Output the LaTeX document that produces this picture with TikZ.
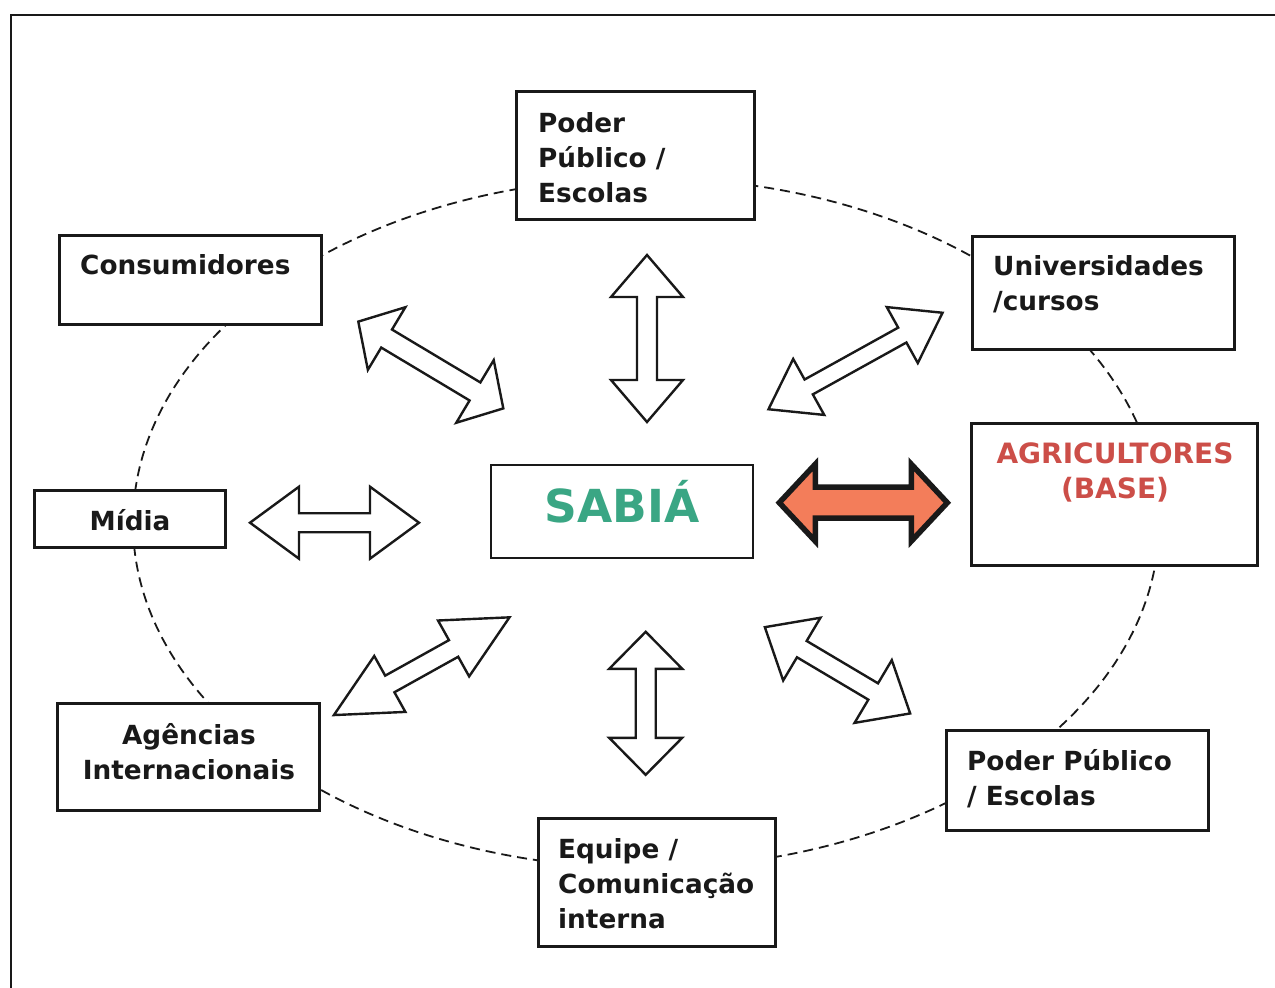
\documentclass[tikz,border=0pt]{standalone}
\usepackage{fontspec}
\setmainfont{DejaVu Sans}
\definecolor{sabiagreen}{RGB}{58,166,132}
\definecolor{agrired}{RGB}{204,78,72}
\definecolor{orangefill}{RGB}{243,125,90}
\definecolor{ink}{RGB}{25,25,25}
\newcommand{\FirstLineRule}{\rule{0pt}{24pt}}
% style, cx, cy, angle, length, head width, head length, shaft width
\newcommand{\DblArrow}[8]{%
  \begin{scope}[shift={(#2,#3)}, rotate=#4]
    \draw[#1] ({-#5/2},0) -- ({-#5/2+#7},{#6/2}) -- ({-#5/2+#7},{#8/2})
      -- ({#5/2-#7},{#8/2}) -- ({#5/2-#7},{#6/2}) -- ({#5/2},0)
      -- ({#5/2-#7},{-#6/2}) -- ({#5/2-#7},{-#8/2}) -- ({-#5/2+#7},{-#8/2})
      -- ({-#5/2+#7},{-#6/2}) -- cycle;
  \end{scope}}
\tikzset{
  box/.style={draw=ink, line width=2.8pt, fill=white, rectangle, inner sep=0pt},
  lbl/.style={inner sep=0pt, font=\fontsize{26.3}{35}\selectfont\bfseries, text=ink},
  hollow/.style={draw=ink, line width=2.4pt, fill=white, line join=miter},
  bold arrow/.style={draw=ink, line width=5.5pt, fill=orangefill, line join=miter},
  orbit/.style={draw=ink, line width=1.8pt, dash pattern=on 10pt off 6pt},
  frame/.style={draw=ink, line width=2.2pt}
}
\begin{document}
\begin{tikzpicture}[x=1pt, y=-1pt]
\useasboundingbox (0,0) rectangle (1275,988);
% frame
\draw[frame] (1275,15) -- (11,15) -- (11,988);
% dashed orbit
\draw[orbit] (646,523) ellipse [x radius=513, y radius=345];

% boxes
\node[box, minimum width=238pt, minimum height=128pt] (b1) at (635.5,155.5) {};
\node[box, minimum width=262pt, minimum height=89pt] (b2) at (190.5,280) {};
\node[box, minimum width=262pt, minimum height=113pt] (b3) at (1103.5,293) {};
\node[box, minimum width=191pt, minimum height=57pt] (b4) at (130,519) {};
\node[box, line width=2.2pt, minimum width=262pt, minimum height=93pt] (b5) at (622,511.5) {};
\node[box, minimum width=286pt, minimum height=142pt] (b6) at (1114.5,494.5) {};
\node[box, minimum width=262pt, minimum height=107pt] (b7) at (188.5,757) {};
\node[box, minimum width=262pt, minimum height=100pt] (b8) at (1077.5,780.5) {};
\node[box, minimum width=237pt, minimum height=128pt] (b9) at (657,882.5) {};

% texts
\node[lbl, anchor=north west, align=left] (t1) at (538,108) {\FirstLineRule Poder\\Público /\\Escolas};
\node[lbl, anchor=base west] (t2) at (80,274) {Consumidores};
\node[lbl, anchor=north west, align=left] (t3) at (993,251) {\FirstLineRule Universidades\\/cursos};
\node[lbl, anchor=base] (t4) at (130,530) {Mídia};
\node[lbl, anchor=base, font=\fontsize{45.5}{50}\selectfont\bfseries, text=sabiagreen] (t5) at (622,522) {SABIÁ};
\node[lbl, anchor=north, align=center, font=\fontsize{28}{35}\selectfont\bfseries, text=agrired] (t6) at (1115,437) {\rule{0pt}{26pt}AGRICULTORES\\(BASE)};
\node[lbl, anchor=north, align=center] (t7) at (189,720) {\FirstLineRule Agências\\Internacionais};
\node[lbl, anchor=north west, align=left] (t8) at (967,746) {\FirstLineRule Poder Público\\/ Escolas};
\node[lbl, anchor=north west, align=left] (t9) at (558,834) {\FirstLineRule Equipe /\\Comunicação\\interna};

% block arrows
\DblArrow{hollow}{647}{338.5}{90}{167}{72}{42}{20}
\DblArrow{hollow}{430.8}{365}{-30.9}{169}{73}{33}{21}
\DblArrow{hollow}{855.5}{361}{29}{199}{64}{46}{17}
\DblArrow{hollow}{334.5}{522.7}{0}{169}{72}{49}{19}
\DblArrow{hollow}{421.7}{666.2}{29.1}{201}{64}{64}{19}
\DblArrow{hollow}{645.7}{703.3}{90}{143}{73}{37}{20}
\DblArrow{hollow}{837.5}{670.3}{-30.7}{169}{73}{43}{19}
\DblArrow{bold arrow}{863.3}{502.7}{0}{168}{77}{36}{31}
\end{tikzpicture}
\end{document}
